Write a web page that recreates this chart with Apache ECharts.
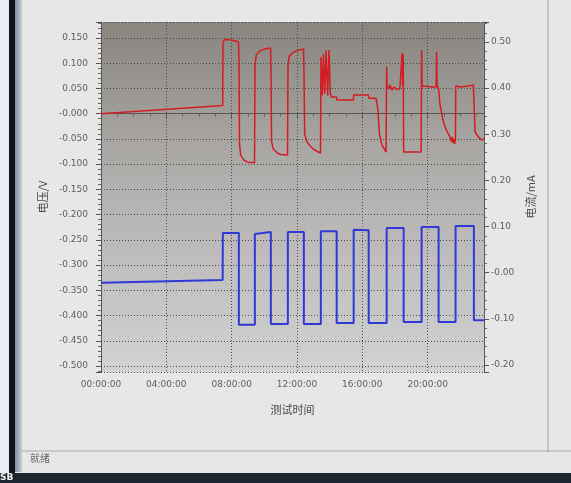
<!DOCTYPE html>
<html>
<head>
<meta charset="utf-8">
<script src="https://cdn.jsdelivr.net/npm/echarts@6/dist/echarts.min.js"></script>
<style>
html,body{margin:0;padding:0;background:#e6e7e6;}
#c{width:571px;height:483px;}
</style>
</head>
<body>
<div id="c"></div>
<script>
// ---- data (hours since start) ----
const currentTime = [0, 7.45, 7.46, 8.44, 8.44, 9.42, 9.42, 10.40, 10.40, 11.44, 11.44, 12.42, 12.42, 13.46, 13.46, 14.43, 14.43, 15.47, 15.47, 16.39, 16.39, 17.49, 17.49, 18.53, 18.53, 19.63, 19.63, 20.67, 20.67, 21.71, 21.71, 22.83, 22.83, 23.45];
const currentValue = [-0.022, -0.016, 0.086, 0.086, -0.113, -0.113, 0.084, 0.088, -0.111, -0.111, 0.088, 0.088, -0.111, -0.111, 0.090, 0.090, -0.109, -0.109, 0.093, 0.092, -0.109, -0.109, 0.097, 0.097, -0.107, -0.107, 0.099, 0.099, -0.107, -0.107, 0.101, 0.101, -0.103, -0.103];

const voltageTime = [0, 7.45, 7.47, 7.55, 8.0, 8.42, 8.45, 8.48, 8.55, 8.75, 9.0, 9.40,
  9.43, 9.50, 9.70, 10.0, 10.38, 10.41, 10.44, 10.55, 10.80, 11.0, 11.42,
  11.45, 11.52, 11.75, 12.0, 12.40, 12.43, 12.47, 12.60, 12.80, 13.0, 13.25, 13.44,
  13.47, 13.55, 13.62, 13.70, 13.78, 13.88, 13.96, 14.04, 14.10, 14.42,
  14.44, 15.45, 15.47, 16.37, 16.40, 16.85, 16.95, 17.05, 17.2, 17.45,
  17.49, 17.52, 17.6, 17.7, 17.8, 17.95, 18.1, 18.3, 18.40, 18.44, 18.47, 18.50, 18.53, 19.60,
  19.63, 19.66, 19.75, 20.30, 20.52, 20.55, 20.58, 20.67, 20.75, 20.90, 21.05, 21.2, 21.35, 21.45, 21.5, 21.55, 21.6, 21.65, 21.70,
  21.72, 22.0, 22.5, 22.80, 22.84, 22.90, 23.1, 23.3, 23.45];
const voltageValue = [0.000, 0.016, 0.140, 0.147, 0.146, 0.142, 0.100, -0.060, -0.082, -0.092, -0.096, -0.097,
  0.095, 0.116, 0.124, 0.128, 0.130, 0.090, -0.055, -0.070, -0.078, -0.081, -0.082,
  0.095, 0.114, 0.121, 0.125, 0.128, 0.080, -0.040, -0.055, -0.064, -0.070, -0.075, -0.078,
  0.112, 0.036, 0.118, 0.040, 0.125, 0.036, 0.126, 0.040, 0.033, 0.033,
  0.027, 0.027, 0.037, 0.037, 0.031, 0.030, 0.010, -0.040, -0.062, -0.076,
  0.093, 0.055, 0.049, 0.057, 0.047, 0.053, 0.048, 0.050, 0.052, 0.120, 0.055, 0.118, -0.076, -0.076,
  0.126, 0.055, 0.053, 0.053, 0.053, 0.122, 0.056, 0.050, 0.020, -0.007, -0.025, -0.036, -0.045, -0.055, -0.046, -0.058, -0.050, -0.060, -0.052,
  0.055, 0.053, 0.055, 0.057, 0.020, -0.036, -0.046, -0.052, -0.050];

const xTickHours = [0, 4, 8, 12, 16, 20];
const leftAxisName = '电压/V';
const rightAxisName = '电流/mA';
const xAxisName = '测试时间';
const statusText = '就绪';

const voltageData = voltageTime.map((t, i) => [t, voltageValue[i]]);
const currentData = currentTime.map((t, i) => [t, currentValue[i]]);

function fmtLeft(v) {
  const r = Math.round(v / 0.05);
  if (Math.abs(v - r * 0.05) > 1e-6) return '';
  if (r === 0) return '-0.000';
  return (r * 0.05).toFixed(3);
}
function fmtRight(v) {
  const r = Math.round(v / 0.1);
  if (Math.abs(v - r * 0.1) > 1e-6) return '';
  if (r === 0) return '-0.00';
  return (r * 0.1).toFixed(2);
}
function fmtX(v) {
  const h = Math.round(v);
  if (Math.abs(v - h) > 1e-6 || xTickHours.indexOf(h) < 0) return '';
  return (h < 10 ? '0' + h : '' + h) + ':00:00';
}

const labelFont = {color: '#5e5e5e', fontSize: 9, fontFamily: 'DejaVu Sans'};
const nameFont = {color: '#4a4a4a', fontSize: 11, fontFamily: 'Noto Sans CJK SC'};

const chart = echarts.init(document.getElementById('c'), null, {renderer: 'canvas'});
chart.setOption({
  backgroundColor: '#e6e7e6',
  animation: false,
  grid: {
    left: 101, right: 87, top: 22, bottom: 111,
    show: true, borderWidth: 0,
    backgroundColor: {
      type: 'linear', x: 0, y: 0, x2: 0, y2: 1,
      colorStops: [
        {offset: 0, color: '#89847e'},
        {offset: 0.45, color: '#b1afad'},
        {offset: 1, color: '#d2d2d3'}
      ]
    }
  },
  xAxis: {
    type: 'value', min: 0, max: 23.45, interval: 4,
    name: xAxisName, nameLocation: 'middle', nameGap: 32, nameTextStyle: nameFont,
    axisLine: {show: true, lineStyle: {color: '#555', width: 1}},
    axisTick: {show: true, length: 5, lineStyle: {color: '#555'}},
    minorTick: {show: true, splitNumber: 4, length: 3, lineStyle: {color: '#666'}},
    axisLabel: {formatter: fmtX, margin: 8, ...labelFont},
    splitLine: {show: true, lineStyle: {color: '#4a4a4a', type: [1, 2], width: 1}}
  },
  yAxis: [{
    type: 'value', position: 'left', min: -0.5119, max: 0.1817, splitNumber: 14,
    name: leftAxisName, nameLocation: 'middle', nameGap: 50, nameRotate: 90, nameTextStyle: nameFont,
    axisLine: {show: true, lineStyle: {color: '#555', width: 1}},
    axisTick: {show: true, length: 5, lineStyle: {color: '#555'}},
    minorTick: {show: true, splitNumber: 5, length: 3, lineStyle: {color: '#666'}},
    axisLabel: {formatter: fmtLeft, margin: 13, ...labelFont},
    splitLine: {show: true, lineStyle: {color: '#4a4a4a', type: [1, 2], width: 1}}
  }, {
    type: 'value', position: 'right', min: -0.2152, max: 0.5433, splitNumber: 7,
    name: rightAxisName, nameLocation: 'middle', nameGap: 40, nameRotate: 90, nameTextStyle: nameFont,
    axisLine: {show: true, lineStyle: {color: '#555', width: 1}},
    axisTick: {show: true, length: 5, lineStyle: {color: '#555'}},
    minorTick: {show: true, splitNumber: 5, length: 3, lineStyle: {color: '#666'}},
    axisLabel: {formatter: fmtRight, margin: 7, ...labelFont},
    splitLine: {show: false}
  }],
  series: [{
    name: leftAxisName, type: 'line', yAxisIndex: 0, data: voltageData,
    showSymbol: false, symbol: 'none',
    lineStyle: {color: '#d41c22', width: 1.5}
  }, {
    name: rightAxisName, type: 'line', yAxisIndex: 1, data: currentData,
    showSymbol: false, symbol: 'none',
    lineStyle: {color: '#3038d6', width: 2}
  }],
  graphic: [
    {type: 'rect', shape: {x: 0, y: 0, width: 9, height: 483}, style: {fill: '#e9eff9'}, silent: true},
    {type: 'rect', shape: {x: 9, y: 0, width: 6, height: 483}, style: {fill: '#121418'}, silent: true},
    {type: 'rect', shape: {x: 15, y: 0, width: 7, height: 472}, style: {fill: {type: 'linear', x: 0, y: 0, x2: 1, y2: 0, colorStops: [{offset: 0, color: '#7d8ea8'}, {offset: 1, color: '#c8ccd2'}]}}, silent: true},
    {type: 'rect', shape: {x: 0, y: 473, width: 571, height: 10}, style: {fill: '#1c2630'}, silent: true},
    {type: 'line', shape: {x1: 548, y1: 0, x2: 548, y2: 452}, style: {stroke: '#9ea2a4', lineWidth: 1}, silent: true},
    {type: 'line', shape: {x1: 22, y1: 451, x2: 571, y2: 451}, style: {stroke: '#a8acae', lineWidth: 1}, silent: true},
    {type: 'text', left: 30, top: 453, style: {text: statusText, fill: '#666', font: '10px "Noto Sans CJK SC"'}, silent: true},
    {type: 'text', left: 0, top: 473, style: {text: 'SB', fill: '#eee', font: 'bold 9px "DejaVu Sans"'}, silent: true}
  ]
});
</script>
</body>
</html>
